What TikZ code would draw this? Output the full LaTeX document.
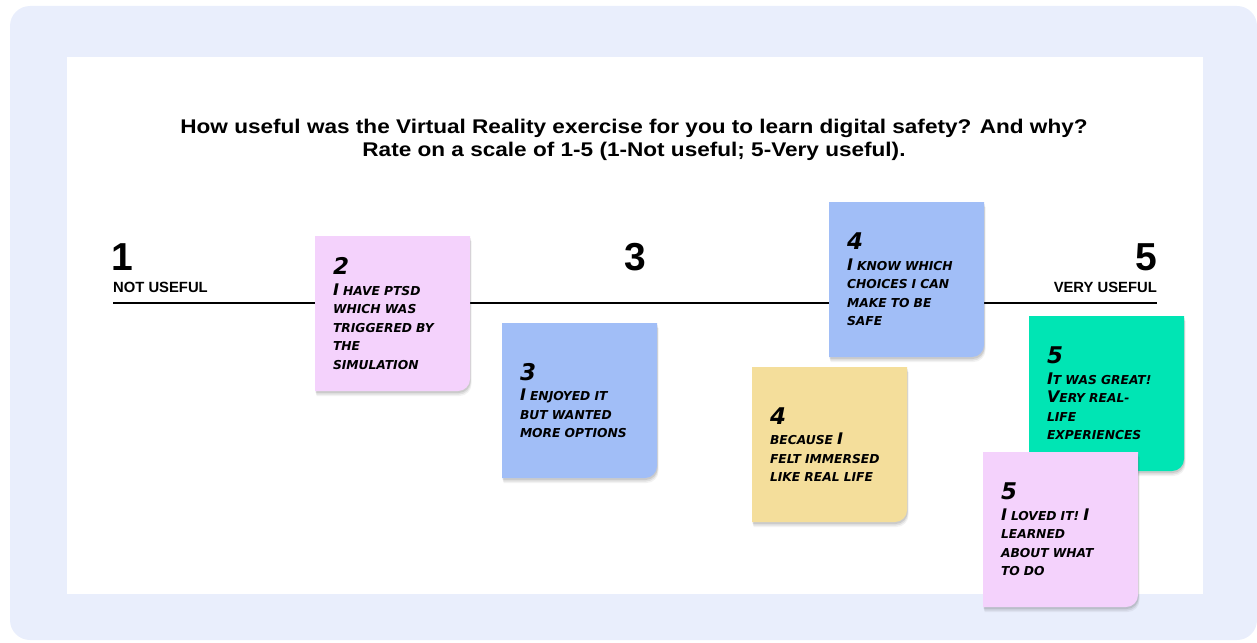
\documentclass[tikz,border=0pt]{standalone}
\usepackage{fontspec}
\setmainfont{Liberation Sans}
\newfontfamily\titlefont{Liberation Sans}[FakeStretch=1.14]
\newfontfamily\hand{DejaVu Sans}
\definecolor{outerbg}{HTML}{E9EEFC}
\definecolor{pinkn}{HTML}{F4D2FC}
\definecolor{bluen}{HTML}{A1BEF7}
\definecolor{yellown}{HTML}{F4DE9B}
\definecolor{greenn}{HTML}{00E5B4}
\newcommand\C[1]{{\fontsize{16}{16}\selectfont #1}}
\newcommand\Num[1]{{\fontsize{23}{23}\selectfont #1}\\[2pt]}
% name, x0, y0, colour, text
\newcommand\stickynote[5]{%
  \foreach \o/\op in {5/0.05,3.5/0.07,2/0.09}{%
    \fill[black,opacity=\op] (#2+\o*0.3,#3+\o) -- ++(155,0) [rounded corners=12pt] -- ++(0,155) [sharp corners] -- ++(-155,0) -- cycle;}
  \fill[#4] (#2,#3) -- ++(155,0) [rounded corners=12pt] -- ++(0,155) [sharp corners] -- ++(-155,0) -- cycle;
  \node[notetext] (#1) at (#2+80,#3+77.5) {#5};
}
\tikzset{
  notetext/.style={text width=124pt, align=left, inner sep=0pt,
    font=\hand\bfseries\itshape\fontsize{12.3}{18.5}\selectfont},
  title/.style={font=\titlefont\bfseries\fontsize{19.8}{22}\selectfont, anchor=base, inner sep=0pt},
  bignum/.style={font=\bfseries\fontsize{39}{39}\selectfont, inner sep=0pt},
  scalelabel/.style={font=\bfseries\fontsize{14.8}{14.8}\selectfont, inner sep=0pt}
}
\begin{document}
\begin{tikzpicture}[x=1pt,y=-1pt]
\useasboundingbox (0,0) rectangle (1257,642);
\fill[outerbg,rounded corners=20pt] (10,6) rectangle (1257,640);
\fill[white] (67,57) rectangle (1203,594);
\node[title] (t1) at (634,133) {How useful was the Virtual Reality exercise for you to learn digital safety? And why?};
\node[title] (t2) at (634,156) {Rate on a scale of 1-5 (1-Not useful; 5-Very useful).};
\coordinate (lineL) at (113,303);
\coordinate (lineR) at (1157,303);
\draw[line width=2.8pt] (lineL) -- (lineR);
\node[bignum,anchor=base west] (n1) at (111,270) {1};
\node[scalelabel,anchor=base west] (l1) at (113,292) {NOT USEFUL};
\node[bignum,anchor=base] (n3) at (635,270) {3};
\node[bignum,anchor=base east] (n5) at (1157,270) {5};
\node[scalelabel,anchor=base east] (l5) at (1157,292) {VERY USEFUL};
\stickynote{s2}{315}{236}{pinkn}{\Num{2}\C{I} HAVE PTSD\\WHICH WAS\\TRIGGERED BY\\THE\\SIMULATION}
\stickynote{s3}{502}{323}{bluen}{\Num{3}\C{I} ENJOYED IT\\BUT WANTED\\MORE OPTIONS}
\stickynote{s4a}{829}{202}{bluen}{\Num{4}\C{I} KNOW WHICH\\CHOICES I CAN\\MAKE TO BE\\SAFE}
\stickynote{s4b}{752}{367}{yellown}{\Num{4}BECAUSE \C{I}\\FELT IMMERSED\\LIKE REAL LIFE}
\stickynote{s5a}{1029}{316}{greenn}{\Num{5}\C{I}T WAS GREAT!\\\C{V}ERY REAL-\\LIFE\\EXPERIENCES}
\stickynote{s5b}{983}{452}{pinkn}{\Num{5}\C{I} LOVED IT! \C{I}\\LEARNED\\ABOUT WHAT\\TO DO}
\end{tikzpicture}
\end{document}
